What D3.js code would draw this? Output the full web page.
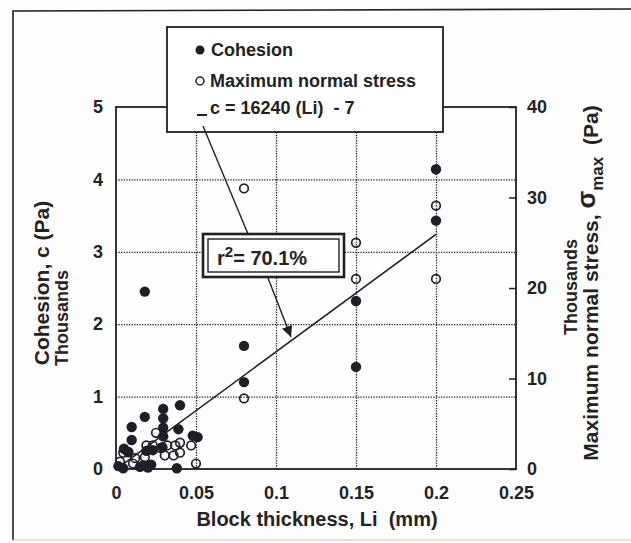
<!DOCTYPE html>
<html>
<head>
<meta charset="utf-8">
<script src="https://cdn.jsdelivr.net/npm/d3@7"></script>
<style>
  body { margin: 0; background: #fff; }
  text { font-family: "Liberation Sans", Arial, sans-serif; font-weight: bold; fill: #232323; }
</style>
</head>
<body>
<script>
/** chart values */
const xTicks = [0, 0.05, 0.1, 0.15, 0.2, 0.25];
const xTickLabels = ["0", "0.05", "0.1", "0.15", "0.2", "0.25"];
const leftTicks = [0, 1, 2, 3, 4, 5];
const rightTicks = [0, 10, 20, 30, 40];

// cohesion, thousands of Pa (left axis)
const cohesionLi = [0.2, 0.2, 0.15, 0.15, 0.08, 0.08, 0.018,
  0.04, 0.0295, 0.0295, 0.018, 0.0098, 0.0098, 0.0295, 0.0295, 0.039, 0.048, 0.051,
  0.0076, 0.019, 0.023, 0.029, 0.0045, 0.015, 0.02, 0.038, 0.0015, 0.017, 0.022, 0.005];
const cohesionK = [4.14, 3.43, 2.32, 1.41, 1.70, 1.20, 2.45,
  0.88, 0.83, 0.70, 0.72, 0.58, 0.40, 0.57, 0.45, 0.55, 0.46, 0.44,
  0.23, 0.25, 0.26, 0.30, 0.01, 0.03, 0.02, 0.01, 0.04, 0.05, 0.06, 0.28];

// maximum normal stress, thousands of Pa (right axis)
const stressLi = [0.2, 0.2, 0.15, 0.15, 0.08, 0.08, 0.05,
  0.025, 0.032, 0.04, 0.019, 0.0045, 0.04, 0.0305, 0.0025, 0.0106, 0.018,
  0.028, 0.047, 0.037, 0.036, 0.012, 0.023, 0.0077];
const stressK = [29.1, 21.0, 25.0, 21.0, 31.0, 7.8, 0.6,
  4.0, 2.6, 2.9, 2.6, 1.8, 1.8, 1.5, 0.8, 0.6, 1.3,
  2.3, 2.6, 2.6, 1.5, 1.2, 2.6, 1.9];

// regression c = 16240 (Li) - 7, in Pa
const fitSlope = 16240;
const fitIntercept = -7;
const fitLi = [0.003, 0.2];

/** layout */
const width = 631, height = 543;
const plotLeft = 116, plotRight = 516, plotTop = 107, plotBottom = 469;
const ink = "#1f1f28";

const svg = d3.select("body").append("svg")
  .attr("width", width).attr("height", height);

svg.append("rect").attr("width", width).attr("height", height).attr("fill", "#fefefe");

// page frame from the scan
svg.append("path")
  .attr("d", "M13,540 L13,11 L631,9")
  .attr("fill", "none").attr("stroke", ink).attr("stroke-width", 1.6);
svg.append("line")
  .attr("x1", 13).attr("x2", 631).attr("y1", 540).attr("y2", 540)
  .attr("stroke", "#d9c8b0").attr("stroke-width", 1);

const x = d3.scaleLinear().domain([0, 0.25]).range([plotLeft, plotRight]);
const yL = d3.scaleLinear().domain([0, 5]).range([plotBottom, plotTop]);
const yR = d3.scaleLinear().domain([0, 40]).range([plotBottom, plotTop]);

// dotted grid
const gx = svg.append("g")
  .attr("transform", "translate(0," + plotBottom + ")")
  .call(d3.axisBottom(x).tickValues([0.05, 0.1, 0.15, 0.2]).tickSize(-(plotBottom - plotTop)).tickFormat(""));
const gy = svg.append("g")
  .attr("transform", "translate(" + plotLeft + ",0)")
  .call(d3.axisLeft(yL).tickValues([1, 2, 3, 4]).tickSize(-(plotRight - plotLeft)).tickFormat(""));
[gx, gy].forEach(g => {
  g.select(".domain").remove();
  g.selectAll("line").attr("stroke", ink).attr("stroke-width", 1.3).attr("stroke-dasharray", "1.3,1.3");
});

// right axis inward ticks
const gr = svg.append("g")
  .attr("transform", "translate(" + plotRight + ",0)")
  .call(d3.axisRight(yR).tickValues(rightTicks).tickSize(-7).tickPadding(11));
gr.select(".domain").remove();
gr.selectAll("line").attr("stroke", ink).attr("stroke-width", 1.5);

// left and bottom tick labels
const gl = svg.append("g")
  .attr("transform", "translate(" + plotLeft + ",0)")
  .call(d3.axisLeft(yL).tickValues(leftTicks).tickSize(0).tickPadding(13).tickFormat(d3.format("d")));
gl.select(".domain").remove();

const gb = svg.append("g")
  .attr("transform", "translate(0," + plotBottom + ")")
  .call(d3.axisBottom(x).tickValues(xTicks).tickSize(0).tickPadding(17)
    .tickFormat((d, i) => xTickLabels[i]));
gb.select(".domain").remove();

[gr, gl, gb].forEach(g => {
  g.selectAll("text").style("font-family", "'Liberation Sans', Arial, sans-serif")
    .style("font-weight", "bold").style("font-size", "18px").attr("fill", "#232323");
});

// plot border
svg.append("rect")
  .attr("x", plotLeft).attr("y", plotTop)
  .attr("width", plotRight - plotLeft).attr("height", plotBottom - plotTop)
  .attr("fill", "none").attr("stroke", ink).attr("stroke-width", 1.8);

// regression line
svg.append("line")
  .attr("x1", x(fitLi[0])).attr("y1", yL((fitSlope * fitLi[0] + fitIntercept) / 1000))
  .attr("x2", x(fitLi[1])).attr("y2", yL((fitSlope * fitLi[1] + fitIntercept) / 1000))
  .attr("stroke", ink).attr("stroke-width", 1.6);

// cohesion points
svg.append("g").selectAll("circle")
  .data(cohesionLi)
  .enter().append("circle")
  .attr("cx", d => x(d))
  .attr("cy", (d, i) => yL(cohesionK[i]))
  .attr("r", 5.2)
  .attr("fill", ink);

// max normal stress points
svg.append("g").selectAll("circle")
  .data(stressLi)
  .enter().append("circle")
  .attr("cx", d => x(d))
  .attr("cy", (d, i) => yR(stressK[i]))
  .attr("r", 4.3)
  .attr("fill", "none")
  .attr("stroke", ink)
  .attr("stroke-width", 1.7);

// axis titles
svg.append("text")
  .attr("x", 317).attr("y", 526)
  .attr("text-anchor", "middle")
  .style("font-size", "20px")
  .attr("xml:space", "preserve")
  .text("Block thickness, Li  (mm)");

svg.append("text")
  .attr("transform", "translate(49,283) rotate(-90)")
  .attr("text-anchor", "middle")
  .style("font-size", "21px")
  .text("Cohesion, c (Pa)");
svg.append("text")
  .attr("transform", "translate(68,318) rotate(-90)")
  .attr("text-anchor", "middle")
  .style("font-size", "18px")
  .text("Thousands");

svg.append("text")
  .attr("transform", "translate(577,287) rotate(-90)")
  .attr("text-anchor", "middle")
  .style("font-size", "18px")
  .text("Thousands");
const rt = svg.append("text")
  .attr("transform", "translate(598,283) rotate(-90)")
  .attr("text-anchor", "middle")
  .style("font-size", "21px");
rt.append("tspan").text("Maximum normal stress, ");
rt.append("tspan").attr("dy", -3).style("font-size", "26px").text("σ");
rt.append("tspan").attr("dy", 8).style("font-size", "17px").text("max");
rt.append("tspan").attr("dy", -5).attr("xml:space", "preserve").text("  (Pa)");

// legend
const lg = svg.append("g");
lg.append("rect")
  .attr("x", 167).attr("y", 27).attr("width", 276).attr("height", 105)
  .attr("fill", "#fff").attr("stroke", ink).attr("stroke-width", 1.8);
lg.append("circle").attr("cx", 200).attr("cy", 50).attr("r", 4.5).attr("fill", ink);
lg.append("text").attr("x", 211).attr("y", 56).style("font-size", "18px").text("Cohesion");
lg.append("circle").attr("cx", 200).attr("cy", 81).attr("r", 4)
  .attr("fill", "none").attr("stroke", ink).attr("stroke-width", 1.5);
lg.append("text").attr("x", 210).attr("y", 87).style("font-size", "18px").text("Maximum normal stress");
lg.append("line").attr("x1", 197).attr("x2", 207).attr("y1", 115).attr("y2", 115)
  .attr("stroke", ink).attr("stroke-width", 2);
lg.append("text").attr("x", 210).attr("y", 114).style("font-size", "18px")
  .attr("xml:space", "preserve").text("c = 16240 (Li)  - 7");

// pointer lines
svg.append("defs").append("marker")
  .attr("id", "head").attr("viewBox", "0 0 10 10")
  .attr("refX", 10).attr("refY", 5)
  .attr("markerWidth", 11).attr("markerHeight", 11)
  .attr("markerUnits", "userSpaceOnUse")
  .attr("orient", "auto")
  .append("path").attr("d", "M0,0 L10,5 L0,10 Z").attr("fill", ink);

svg.append("line")
  .attr("x1", 203).attr("y1", 126).attr("x2", 248).attr("y2", 234)
  .attr("stroke", ink).attr("stroke-width", 1.4);
svg.append("line")
  .attr("x1", 268).attr("y1", 278).attr("x2", 291).attr("y2", 337)
  .attr("stroke", ink).attr("stroke-width", 1.4)
  .attr("marker-end", "url(#head)");

// r-squared box
svg.append("rect")
  .attr("x", 203).attr("y", 234).attr("width", 141).attr("height", 43)
  .attr("fill", "#fff").attr("stroke", ink).attr("stroke-width", 2.6);
svg.append("rect")
  .attr("x", 208).attr("y", 239).attr("width", 131).attr("height", 33)
  .attr("fill", "none").attr("stroke", ink).attr("stroke-width", 1.4);
const r2 = svg.append("text").attr("x", 217).attr("y", 265).style("font-size", "20px");
r2.append("tspan").text("r");
r2.append("tspan").attr("dy", -8).style("font-size", "15px").text("2");
r2.append("tspan").attr("dy", 8).text("= 70.1%");
</script>
</body>
</html>
